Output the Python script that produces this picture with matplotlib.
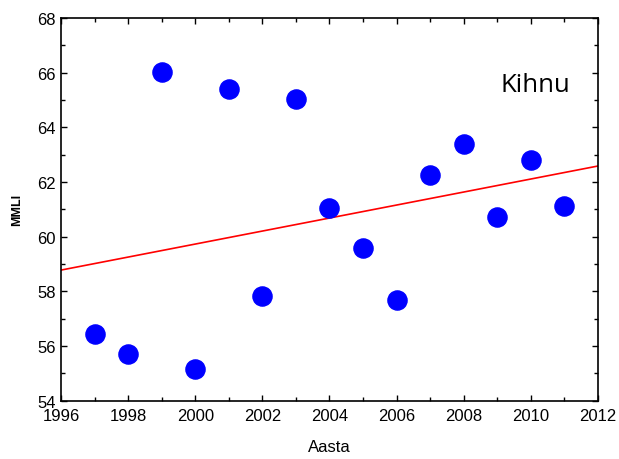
import matplotlib.pyplot as plt
import numpy as np
from matplotlib.ticker import MultipleLocator

years = [1997, 1998, 1999, 2000, 2001, 2002, 2003, 2004,
         2005, 2006, 2007, 2008, 2009, 2010, 2011]
mmli = [56.44, 55.71, 66.02, 55.15, 65.40, 57.83, 65.03, 61.06,
        59.57, 57.67, 62.27, 63.38, 60.73, 62.82, 61.11]
site = "Kihnu"

plt.rcParams['font.family'] = ['Liberation Sans', 'DejaVu Sans']

fig = plt.figure(figsize=(6.19, 4.60), dpi=100)
ax = fig.add_axes([0.0985, 0.127, 0.8675, 0.8317])

# linear fit over the plotted data
k, b = np.polyfit(years, mmli, 1)
xl = np.array([1996, 2012])
ax.plot(xl, k * xl + b, color='red', lw=1.2, zorder=2)

ax.plot(years, mmli, 'o', color='#0000ff', ms=13.8, mec='#0000ff', zorder=3)

ax.set_xlim(1996, 2012)
ax.set_ylim(54, 68)
ax.xaxis.set_major_locator(MultipleLocator(2))
ax.xaxis.set_minor_locator(MultipleLocator(1))
ax.yaxis.set_major_locator(MultipleLocator(2))
ax.yaxis.set_minor_locator(MultipleLocator(1))
ax.tick_params(which='both', direction='in', top=True, right=True, width=1, labelsize=12)
ax.tick_params(which='major', length=4)
ax.tick_params(which='minor', length=3)
ax.tick_params(axis='x', pad=5)
ax.tick_params(axis='y', pad=4)
for s in ax.spines.values():
    s.set_linewidth(1.2)

ax.set_xlabel('Aasta', fontsize=12, labelpad=12)
ax.set_ylabel('MMLI', fontsize=9, fontweight='bold', labelpad=10)
ax.text(0.818, 0.827, site, transform=ax.transAxes, fontsize=18.5,
        family=['Open Sans', 'DejaVu Sans'], ha='left', va='center')

fig.savefig('out.png', dpi=100)
